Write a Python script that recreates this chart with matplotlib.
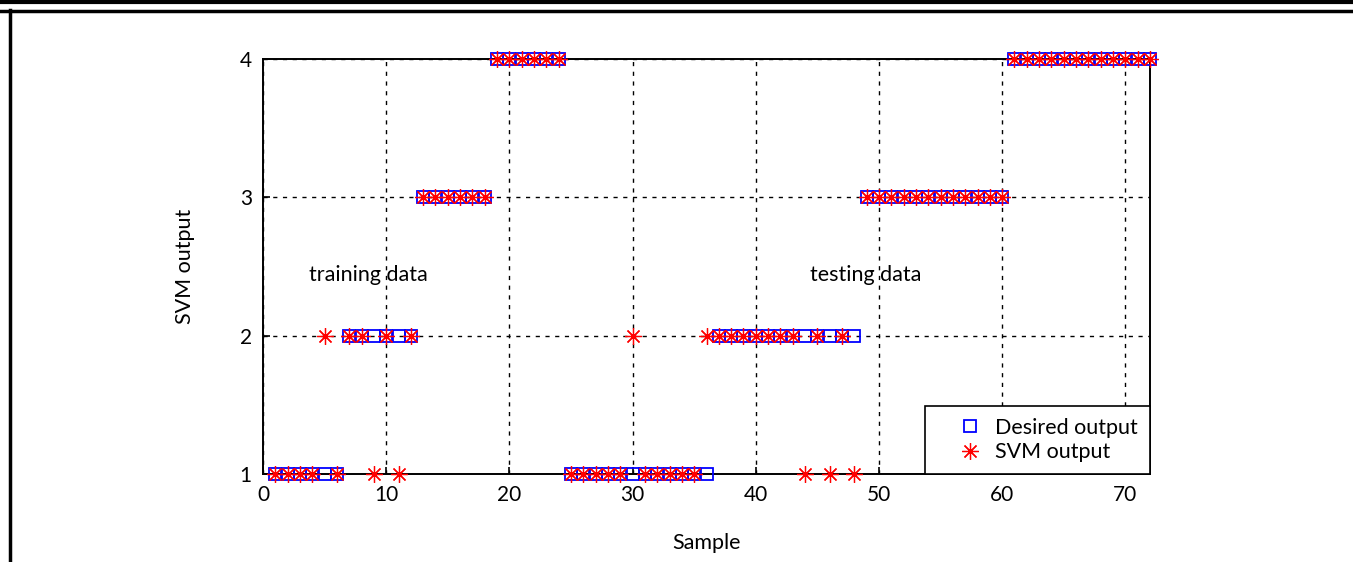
import matplotlib
matplotlib.use("Agg")
import matplotlib.pyplot as plt
from matplotlib.lines import Line2D

plt.rcParams["font.family"] = ["Lato", "DejaVu Sans"]

# sample index 1..72
samples = list(range(1, 73))
desired = [1] * 6 + [2] * 6 + [3] * 6 + [4] * 6 + [1] * 12 + [2] * 12 + [3] * 12 + [4] * 12
svm = ([1, 1, 1, 1, 2, 1, 2, 2, 1, 2, 1, 2]
       + [3] * 6 + [4] * 6
       + [1, 1, 1, 1, 1, 2, 1, 1, 1, 1, 1, 2]
       + [2, 2, 2, 2, 2, 2, 2, 1, 2, 1, 2, 1]
       + [3] * 12 + [4] * 12)
xticks = [0, 10, 20, 30, 40, 50, 60, 70]
yticks = [1, 2, 3, 4]

W, H = 1353, 562
fig = plt.figure(figsize=(W / 100, H / 100), dpi=100)
ax = fig.add_axes([263 / W, 1 - 474 / H, (1150 - 263) / W, (474 - 59) / H])

ax.plot(samples, desired, linestyle="none", marker="s", markersize=8.8,
        markerfacecolor="none", markeredgecolor="blue", markeredgewidth=1.3,
        label="Desired output", clip_on=False, zorder=3)
ax.plot(samples, svm, linestyle="none", marker=(8, 2, 0), markersize=12,
        color="red", markeredgewidth=0.9, label="SVM output", clip_on=False, zorder=4)

ax.set_xlim(0, 72)
ax.set_ylim(1, 4)
ax.set_xticks(xticks)
ax.set_yticks(yticks)
ax.tick_params(direction="in", labelsize=15, length=5, width=1.2, pad=8)
ax.grid(True, color="black", linestyle=(0, (3, 4)), linewidth=1)
for s in ax.spines.values():
    s.set_linewidth(1.4)

ax.set_xlabel("Sample", fontsize=15.5, labelpad=20)
ax.set_ylabel("SVM output", fontsize=15.5, labelpad=32)

ax.text(3.7, 2.44, "training data", fontsize=15.5, va="center")
ax.text(44.4, 2.44, "testing data", fontsize=15.5, va="center")

leg = ax.legend(loc="lower right", borderaxespad=0, fontsize=15.5, frameon=True,
                fancybox=False, edgecolor="black", framealpha=1,
                handletextpad=-0.3, handlelength=3.0, borderpad=0.55,
                labelspacing=0.2)
leg.get_frame().set_linewidth(1.2)
leg.set_zorder(5)

# page frame around the figure
def fline(x0, y0, x1, y1, lw):
    fig.add_artist(Line2D([x0 / W, x1 / W], [1 - y0 / H, 1 - y1 / H],
                          transform=fig.transFigure, color="black", linewidth=lw))

fline(0, 2, W, 2, 3)
fline(0, 11, W, 11, 2.5)
fline(10, 10, 10, H, 2.5)

fig.savefig("out.png", dpi=100)
